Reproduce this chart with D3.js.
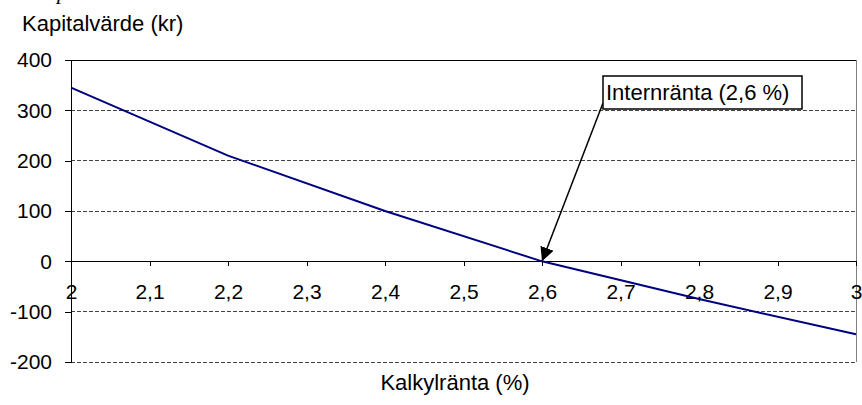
<!DOCTYPE html>
<html>
<head>
<meta charset="utf-8">
<script src="https://cdn.jsdelivr.net/npm/d3@7"></script>
<style>
  body { margin: 0; background: #fff; }
  svg { display: block; font-family: "Liberation Sans", Arial, sans-serif; }
</style>
</head>
<body>
<div id="chart"></div>
<script>
// data
const rates = [2, 2.2, 2.4, 2.6, 2.8, 3];
const npv = [345, 210, 100, 0, -75, -145];
const xTicks = [2, 2.1, 2.2, 2.3, 2.4, 2.5, 2.6, 2.7, 2.8, 2.9, 3];
const yTicks = [-200, -100, 0, 100, 200, 300, 400];
const irr = 2.6;

const width = 862, height = 405;
const svLocale = d3.formatLocale({decimal: ",", thousands: " ", grouping: [3], currency: ["", " kr"], minus: "-"});
const fmt = svLocale.format("~g");

const svg = d3.select("#chart").append("svg")
    .attr("width", width)
    .attr("height", height);

const x = d3.scaleLinear().domain([2, 3]).range([71, 856]);
const y = d3.scaleLinear().domain([-200, 400]).range([362, 60]);

// cut-off glyph at the very top
svg.append("text")
    .attr("x", 57).attr("y", -1)
    .style("font-family", "Liberation Serif, serif")
    .style("font-style", "italic")
    .style("font-size", "22px")
    .text("p");

// gridlines
svg.append("g")
    .selectAll("line")
    .data(yTicks.filter(d => d !== 0 && d !== 400))
    .enter().append("line")
    .attr("x1", x(2)).attr("x2", x(3))
    .attr("y1", d => y(d)).attr("y2", d => y(d))
    .attr("stroke", "#444")
    .attr("stroke-width", 1)
    .attr("stroke-dasharray", "4,2")
    .attr("shape-rendering", "crispEdges");

// top and right frame
svg.append("line")
    .attr("x1", x(2)).attr("x2", x(3))
    .attr("y1", y(400)).attr("y2", y(400))
    .attr("stroke", "#000").attr("shape-rendering", "crispEdges");
svg.append("line")
    .attr("x1", x(3)).attr("x2", x(3))
    .attr("y1", y(400)).attr("y2", y(-200))
    .attr("stroke", "#808080").attr("shape-rendering", "crispEdges");

// y axis
const yAxis = svg.append("g")
    .attr("transform", `translate(${x(2)},0)`)
    .call(d3.axisLeft(y).tickValues(yTicks).tickSize(6).tickPadding(13).tickFormat(d => fmt(d)));
yAxis.select(".domain").attr("stroke", "#000").attr("shape-rendering", "crispEdges");
yAxis.selectAll(".tick line").attr("stroke", "#000").attr("shape-rendering", "crispEdges");
yAxis.selectAll("text")
    .style("font-size", "21px")
    .style("font-family", "Liberation Sans, Arial, sans-serif")
    .attr("fill", "#000");

// x axis on zero line
const xAxis = svg.append("g")
    .attr("transform", `translate(0,${y(0)})`)
    .call(d3.axisBottom(x).tickValues(xTicks).tickSize(5).tickPadding(18).tickFormat(d => fmt(d)));
xAxis.select(".domain").attr("stroke", "#000").attr("shape-rendering", "crispEdges");
xAxis.selectAll(".tick line").attr("stroke", "#000").attr("shape-rendering", "crispEdges");
xAxis.selectAll("text")
    .style("font-size", "21px")
    .style("font-family", "Liberation Sans, Arial, sans-serif")
    .attr("fill", "#000");

// series line
const line = d3.line()
    .x((d, i) => x(rates[i]))
    .y(d => y(d));
svg.append("path")
    .datum(npv)
    .attr("d", line)
    .attr("fill", "none")
    .attr("stroke", "#000080")
    .attr("stroke-width", 2);

// axis titles
svg.append("text")
    .attr("x", 22).attr("y", 31)
    .style("font-size", "22px")
    .text("Kapitalvärde (kr)");
svg.append("text")
    .attr("x", 455).attr("y", 390)
    .attr("text-anchor", "middle")
    .style("font-size", "22px")
    .text("Kalkylränta (%)");

// annotation with arrow
svg.append("defs").append("marker")
    .attr("id", "head")
    .attr("viewBox", "0 0 10 10")
    .attr("refX", 10).attr("refY", 5)
    .attr("markerWidth", 14).attr("markerHeight", 14)
    .attr("markerUnits", "userSpaceOnUse")
    .attr("orient", "auto")
    .append("path")
    .attr("d", "M0,0L10,5L0,10Z")
    .attr("fill", "#000");

const boxX = 603, boxY = 76, boxW = 199, boxH = 33;
svg.append("line")
    .attr("x1", boxX).attr("y1", boxY + boxH - 6)
    .attr("x2", x(irr)).attr("y2", y(0))
    .attr("stroke", "#000")
    .attr("stroke-width", 1.5)
    .attr("marker-end", "url(#head)");
svg.append("rect")
    .attr("x", boxX).attr("y", boxY)
    .attr("width", boxW).attr("height", boxH)
    .attr("fill", "#fff")
    .attr("stroke", "#000")
    .attr("stroke-width", 1.5);
svg.append("text")
    .attr("x", boxX + 3).attr("y", boxY + 24)
    .style("font-size", "22px")
    .text("Internränta (" + fmt(irr) + " %)");
</script>
</body>
</html>
